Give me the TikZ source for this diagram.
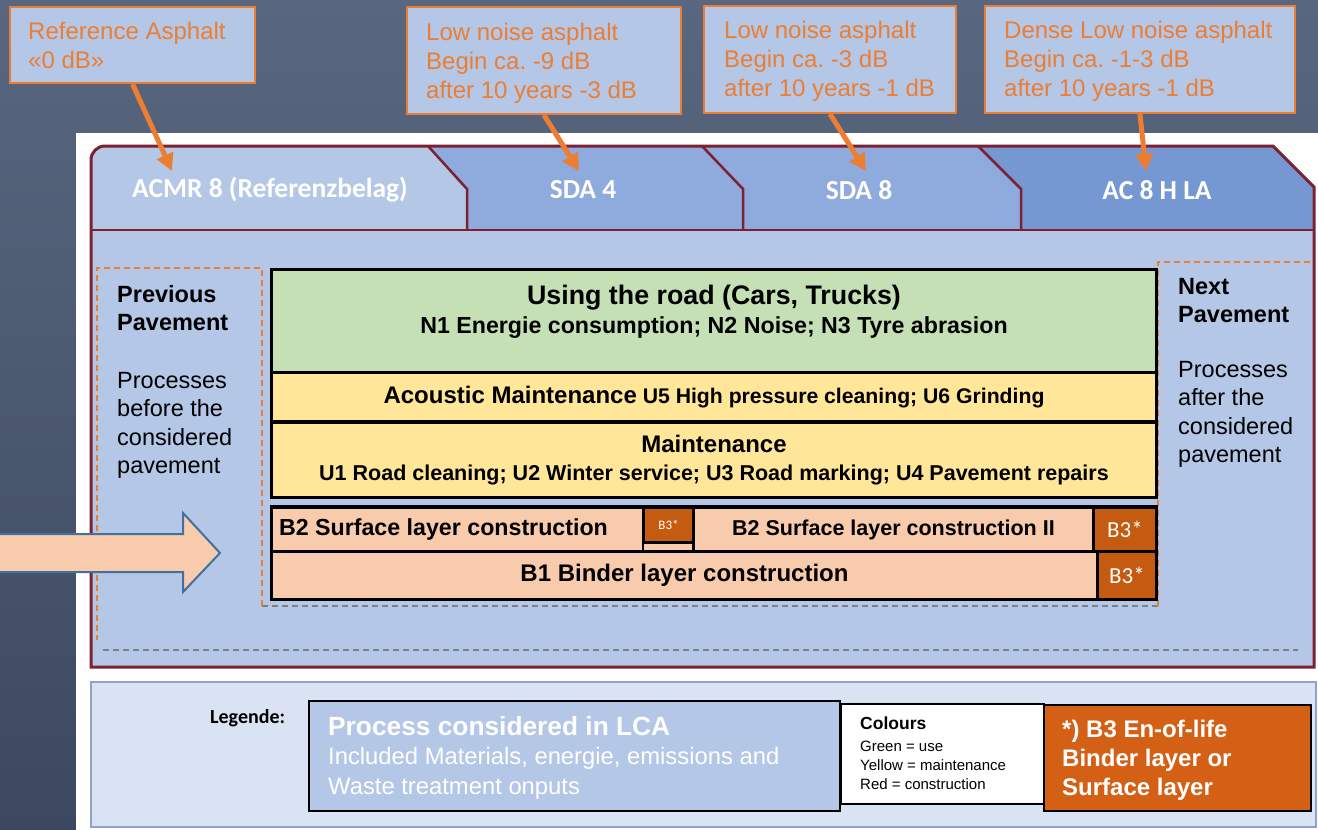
\documentclass[tikz,border=0pt]{standalone}
\usepackage{fontspec}
\setmainfont{Liberation Sans}
\newfontfamily\calibri{Carlito}
\usetikzlibrary{arrows.meta,calc}
\newcommand\fsz[2]{\fontsize{#1}{#2}\selectfont}
\definecolor{bgtop}{HTML}{58677F}
\definecolor{bgbot}{HTML}{3C4860}
\definecolor{bodyblue}{HTML}{B4C7E7}
\definecolor{tabblue}{HTML}{8FAADC}
\definecolor{tabdark}{HTML}{7598D3}
\definecolor{framered}{HTML}{7B2131}
\definecolor{orc}{HTML}{ED7D31}
\definecolor{usegreen}{HTML}{C5E0B4}
\definecolor{mainyellow}{HTML}{FFE699}
\definecolor{peach}{HTML}{F8CBAD}
\definecolor{bthree}{HTML}{C55A11}
\definecolor{legbg}{HTML}{DAE3F3}
\definecolor{legborder}{HTML}{8FA3C6}
\definecolor{legorange}{HTML}{D36015}
\definecolor{arrowblue}{HTML}{41719C}
\definecolor{dashgray}{HTML}{7F7F7F}
\begin{document}
\begin{tikzpicture}[x=1pt,y=-1pt,
  callbox/.style={draw=orc, line width=2pt, fill=bodyblue, anchor=north west, inner sep=0pt},
  calltext/.style={text=orc, align=left, anchor=north west, inner sep=0pt, font=\fsz{24}{29}\frenchspacing},
  callarrow/.style={draw=orc, line width=5pt, -{Triangle[width=17pt,length=17pt]}},
  tabtext/.style={text=white, font=\calibri\bfseries\fsz{27.5}{30}, inner sep=0pt},
  procbox/.style={draw=black, line width=3pt, inner sep=0pt, anchor=north west, align=center},
  bthreebox/.style={procbox, fill=bthree, text=white, font=\calibri\fsz{23}{26}},
  odash/.style={draw=orc, line width=1.5pt, dash pattern=on 6pt off 4pt},
  gdash/.style={draw=dashgray, line width=1.5pt, dash pattern=on 6pt off 4pt},
  sidetext/.style={anchor=north west, align=left, inner sep=0pt, font=\fsz{23.5}{28.5}},
  legbox/.style={draw=black, line width=2pt, anchor=north west, inner sep=0pt}
]
\useasboundingbox (0,0) rectangle (1318,830);
% background
\shade[top color=bgtop, bottom color=bgbot] (0,0) rectangle (1318,830);
\fill[white] (76,133) rectangle (1318,830);
% main frame body
\fill[bodyblue] (91,667) -- (91,160) to[out=90,in=180] (105,146) -- (1273,146) -- (1314,187) -- (1314,667) -- cycle;
% tabs
\fill[tabblue] (428,146) -- (702,146) -- (743,189) -- (743,230) -- (467,230) -- (467,189) -- cycle;
\fill[tabblue] (702,146) -- (978,146) -- (1021,189) -- (1021,230) -- (743,230) -- (743,189) -- cycle;
\fill[tabdark] (978,146) -- (1273,146) -- (1314,187) -- (1314,230) -- (1021,230) -- (1021,189) -- cycle;
\draw[framered, line width=2.5pt] (428,146) -- (467,189) -- (467,230);
\draw[framered, line width=2.5pt] (702,146) -- (743,189) -- (743,230);
\draw[framered, line width=2.5pt] (978,146) -- (1021,189) -- (1021,230);
\draw[framered, line width=2.5pt] (91,230) -- (1314,230);
\draw[framered, line width=3pt] (91,667) -- (91,160) to[out=90,in=180] (105,146) -- (1273,146) -- (1314,187) -- (1314,667) -- cycle;
% tab texts
\node[tabtext] (t1) at (270,190) {ACMR 8 (Referenzbelag)};
\node[tabtext] (t2) at (583,190) {SDA 4};
\node[tabtext] (t3) at (859,190) {SDA 8};
\node[tabtext] (t4) at (1157,190) {AC 8 H LA};
% callouts
\node[callbox, minimum width=245pt, minimum height=76pt] (c1) at (9,6) {};
\node[callbox, minimum width=274pt, minimum height=107pt] (c2) at (406,6) {};
\node[callbox, minimum width=252pt, minimum height=107pt] (c3) at (703,5) {};
\node[callbox, minimum width=310pt, minimum height=107pt] (c4) at (984,5) {};
\node[calltext] (c1t) at (28,22) {Reference Asphalt\\«0 dB»};
\node[calltext] (c2t) at (426,23) {Low noise asphalt\\Begin ca. -9 dB\\after 10 years -3 dB};
\node[calltext] (c3t) at (724,21) {Low noise asphalt\\Begin ca. -3 dB\\after 10 years -1 dB};
\node[calltext] (c4t) at (1004,21) {Dense Low noise asphalt\\Begin ca. -1-3 dB\\after 10 years -1 dB};
\coordinate (a1) at (172,171);
\coordinate (a2) at (579,171);
\coordinate (a3) at (866,171);
\coordinate (a4) at (1146,171);
\draw[callarrow] (c1.south) -- (a1);
\draw[callarrow] (c2.south) -- (a2);
\draw[callarrow] (c3.south) -- (a3);
\draw[callarrow] (c4.south) -- (a4);
% dashed areas
\draw[odash] (262,606) -- (262,268) -- (97,268) -- (97,640);
\draw[gdash] (103,650) -- (1298,650);
\draw[gdash] (262,606) -- (1158,606);
\draw[odash] (1158,606) -- (1158,262) -- (1312,262);
% process boxes
\node[procbox, fill=usegreen, minimum width=885pt, minimum height=103pt] (use) at (270,268) {};
\node[align=center, inner sep=0pt, yshift=9pt, font=\bfseries\fsz{23.2}{29}] (usetxt) at (use.center)
  {{\fsz{26.8}{29}Using the road (Cars, Trucks)}\\N1 Energie consumption; N2 Noise; N3 Tyre abrasion};
\node[procbox, fill=mainyellow, minimum width=885pt, minimum height=49pt, font=\bfseries\fsz{21.2}{26}] (acu) at (270,371)
  {{\fsz{24}{26}Acoustic Maintenance} U5 High pressure cleaning; U6 Grinding};
\node[procbox, fill=mainyellow, minimum width=885pt, minimum height=75pt, font=\bfseries\fsz{21.5}{28}] (mnt) at (270,421)
  {{\fsz{24}{28}Maintenance}\\U1 Road cleaning; U2 Winter service; U3 Road marking; U4 Pavement repairs};
\node[procbox, fill=peach, minimum width=372pt, minimum height=44pt, font=\bfseries\fsz{23.2}{26}] (btwo) at (270,506) {B2 Surface layer construction\hspace*{28pt}};
\node[procbox, fill=peach, line width=1.5pt, minimum width=50pt, minimum height=9pt] (strip) at (642,541) {};
\node[bthreebox, minimum width=50pt, minimum height=35pt, font=\calibri\fsz{13}{15}] (bths) at (642,506) {B3*};
\node[procbox, fill=peach, minimum width=400pt, minimum height=44pt, font=\bfseries\fsz{21.5}{26}] (btwoii) at (692,506) {B2 Surface layer construction II};
\node[bthreebox, minimum width=63pt, minimum height=44pt] (bthr) at (1092,506) {B3*};
\node[procbox, fill=peach, minimum width=826pt, minimum height=48pt, font=\bfseries\fsz{24}{26}] (bone) at (270,550) {B1 Binder layer construction};
\node[bthreebox, minimum width=59pt, minimum height=48pt] (bthb) at (1096,550) {B3*};
\node[procbox, minimum width=885pt, minimum height=93pt] (grp) at (270,505) {};
% big arrow
\draw[fill=peach, draw=arrowblue, line width=2pt] (-5,534) -- (183,534) -- (183,513) -- (220,553) -- (183,592) -- (183,572) -- (-5,572) -- cycle;
% side texts
\node[sidetext] (prev) at (117,285) {\textbf{Previous}\\\textbf{Pavement}\\[29pt]Processes\\before the\\considered\\pavement};
\node[sidetext] (next) at (1178,278) {\textbf{Next}\\\textbf{Pavement}\\[26pt]Processes\\after the\\considered\\pavement};
% legend
\draw[fill=legbg, draw=legborder, line width=2pt] (91,682) rectangle (1316,827);
\node[anchor=west, inner sep=0pt, font=\calibri\bfseries\fsz{20}{24}] (leg) at (210,718) {Legende:};
\node[legbox, fill=bodyblue, minimum width=531pt, minimum height=110pt] (lca) at (308,700) {};
\node[anchor=north west, align=left, inner sep=0pt, text=white, font=\fsz{23.8}{29.5}] (lcatxt) at (328,716)
  {{\bfseries\fsz{26.3}{29.5}Process considered in LCA}\\Included Materials, energie, emissions and\\Waste treatment onputs};
\node[legbox, fill=white, minimum width=203pt, minimum height=100pt] (col) at (840,703) {};
\node[anchor=north west, align=left, inner sep=0pt, font=\fsz{15}{19}] (coltxt) at (860,717)
  {{\bfseries\fsz{17.5}{19}Colours}\\[3pt]Green = use\\Yellow = maintenance\\Red = construction};
\node[legbox, fill=legorange, minimum width=267pt, minimum height=106pt] (eol) at (1043,704) {};
\node[anchor=north west, align=left, inner sep=0pt, text=white, font=\bfseries\fsz{24}{29}] (eoltxt) at (1062,720)
  {*) B3 En-of-life\\Binder layer or\\Surface layer};
\end{tikzpicture}
\end{document}
